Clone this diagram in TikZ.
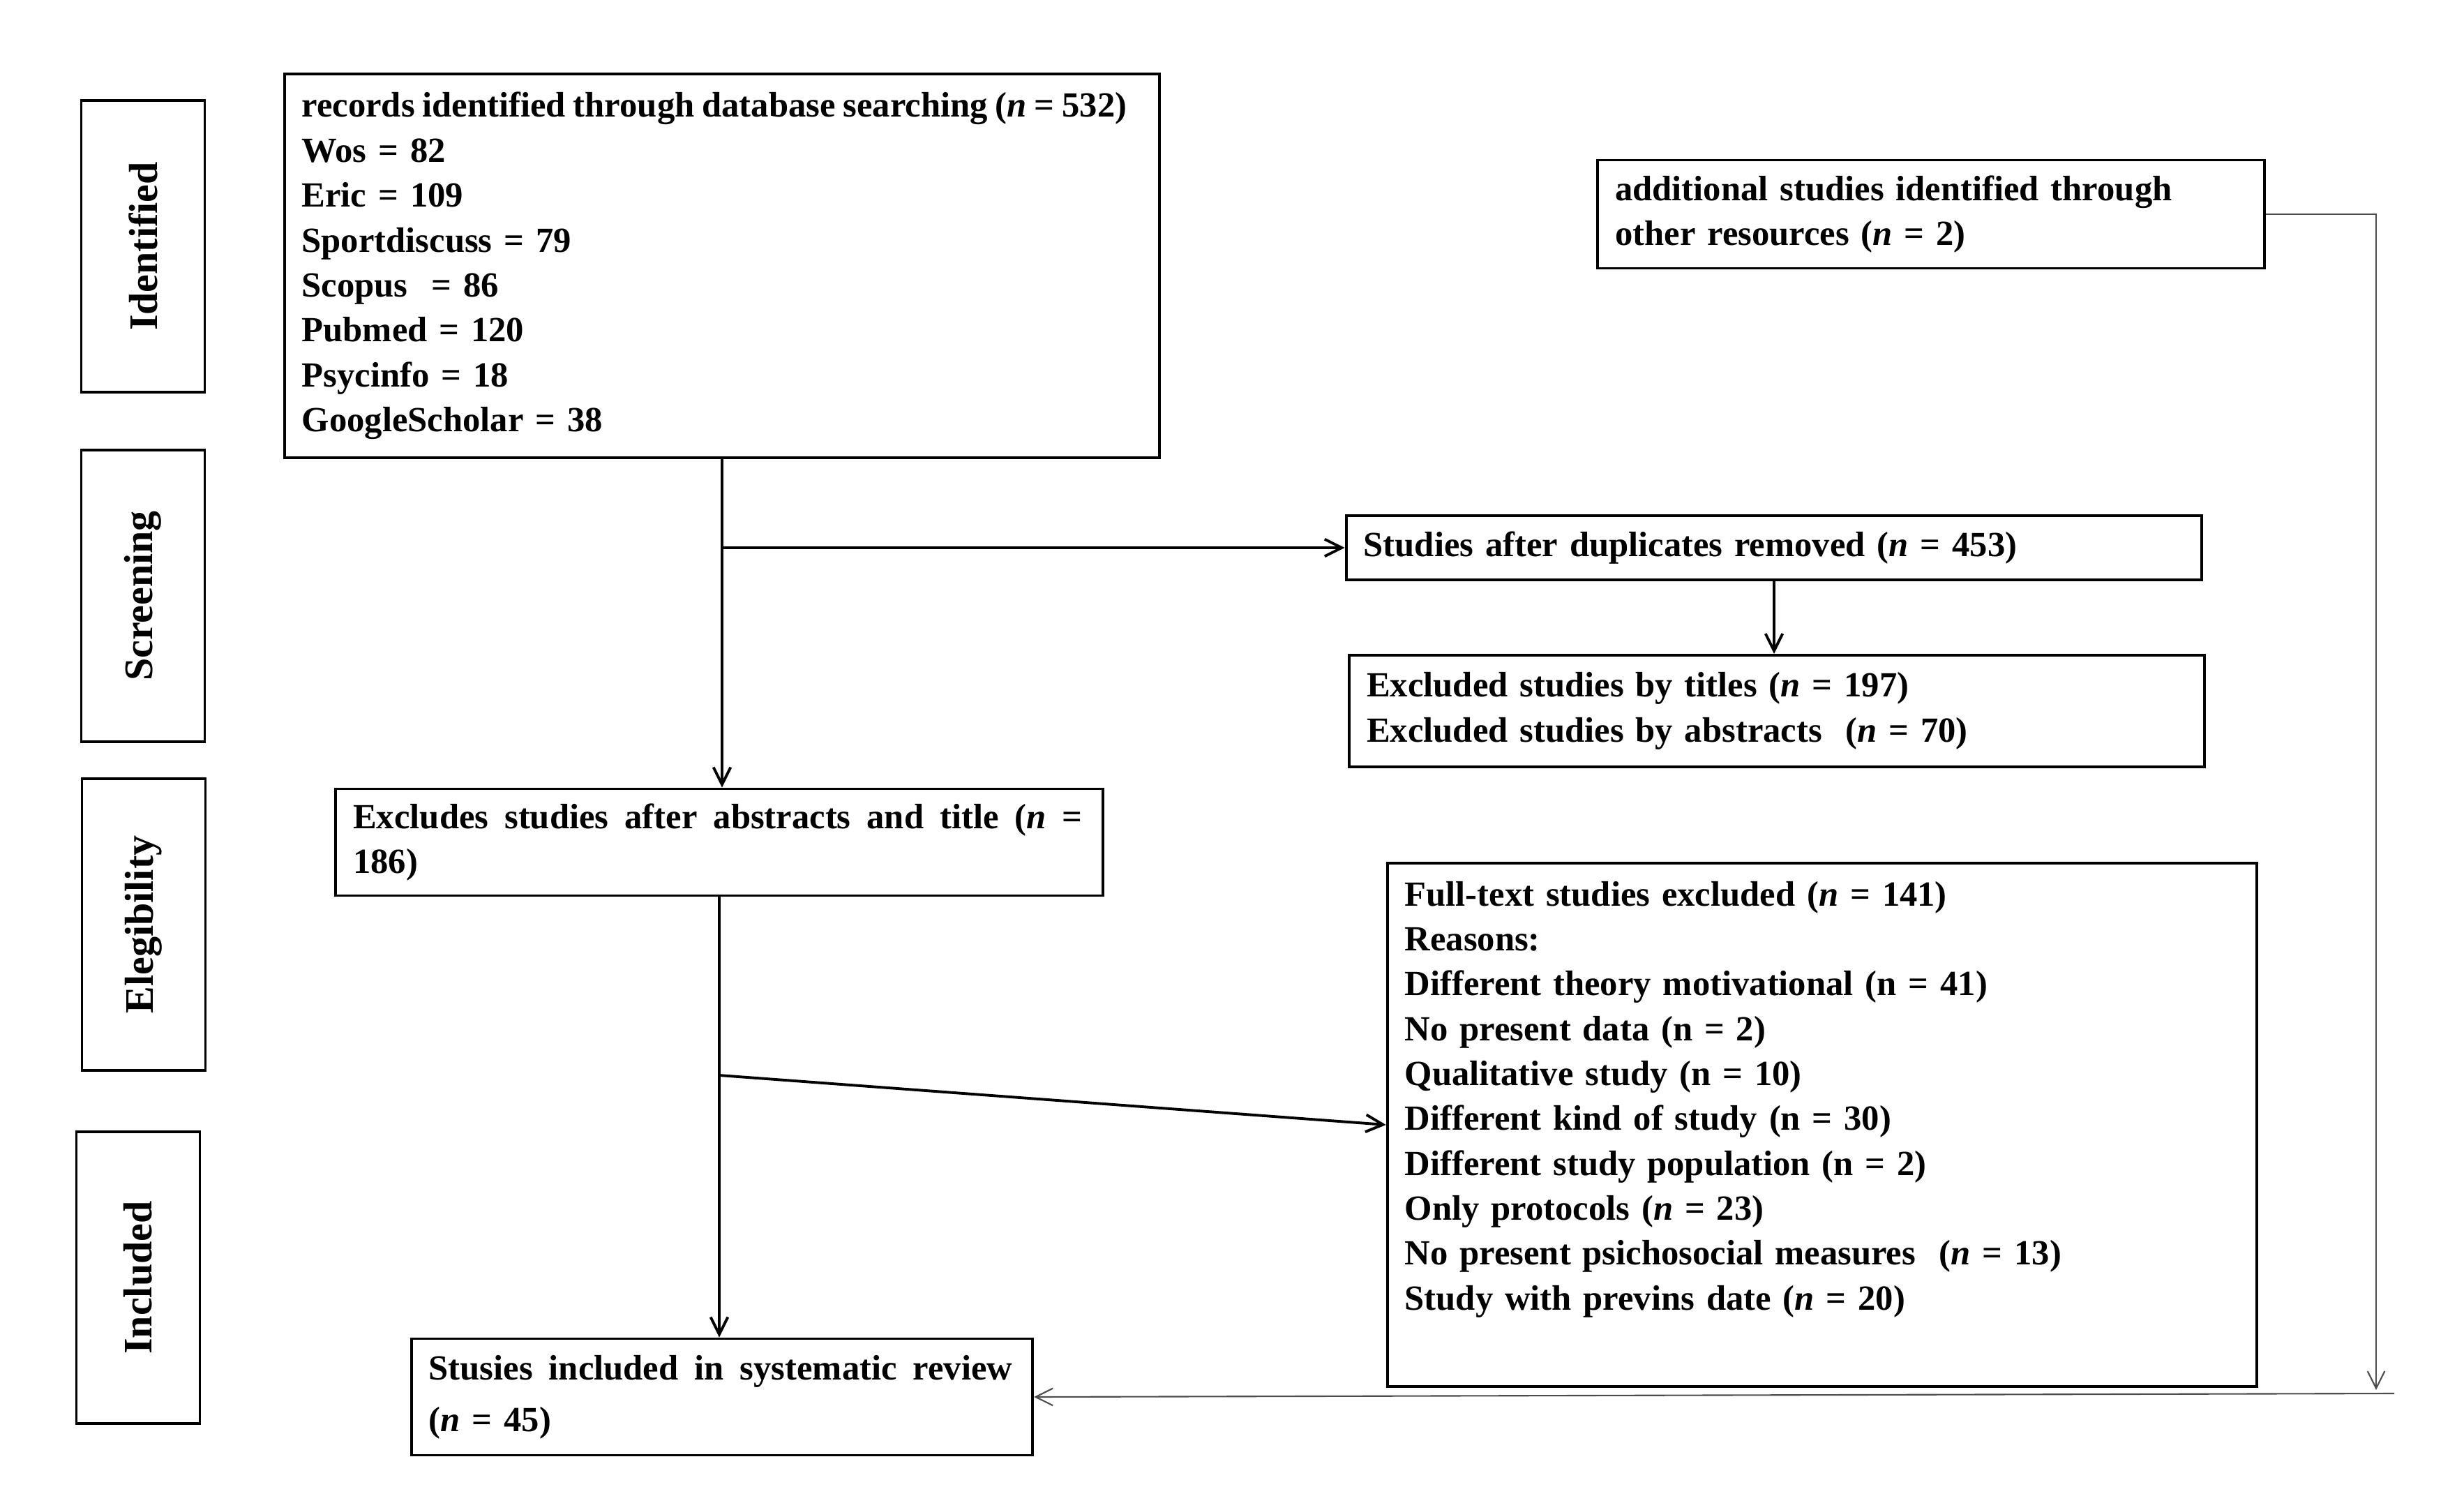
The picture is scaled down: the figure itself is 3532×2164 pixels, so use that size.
\documentclass[tikz,border=0pt]{standalone}
\usepackage{fontspec}
\setmainfont{Liberation Serif}
\usetikzlibrary{arrows.meta}

\tikzset{
  box/.style={draw, line width=1.1pt, align=left, inner xsep=0.25cm, inner ysep=0pt,
    font=\bfseries\fontsize{14.4}{18.3}\selectfont},
  stage/.style={draw, line width=1.1pt, rotate=90, minimum width=4.18cm, minimum height=1.77cm,
    font=\bfseries\fontsize{16.5}{19}\selectfont},
  flow/.style={line width=1.1pt, -{Straight Barb[length=7pt,width=7pt]}},
  side/.style={line width=0.6pt, gray!60!black, -{Straight Barb[length=7pt,width=7pt]}},
}

\begin{document}
\begin{tikzpicture}[x=0.01cm, y=-0.01cm]
\useasboundingbox (0,0) rectangle (3532,2164);
% phases
\node[stage] (identified) at (205,353) {Identified};
\node[stage] (screening) at (205,854) {Screening};
\node[stage] (elegibility) at (206,1325) {Elegibility};
\node[stage] (included) at (198,1831) {Included};
% boxes
\node[box, text width=12.04cm, minimum height=5.5cm] (records) at (1035,381) {\mbox{\spaceskip=0.215em\relax records identified through database searching (\textit{n} = 532)}\\
Wos = 82\\
Eric = 109\\
Sportdiscuss = 79\\
Scopus ~= 86\\
Pubmed = 120\\
Psycinfo = 18\\
GoogleScholar = 38};
\node[box, text width=9.05cm, minimum height=1.55cm] (add) at (2768,307) {additional studies identified through\\
other resources (\textit{n} = 2)};
\node[box, text width=11.76cm, minimum height=0.92cm] (dup) at (2543,785) {Studies after duplicates removed (\textit{n} = 453)};
\node[box, text width=11.75cm, minimum height=1.6cm] (titles) at (2547,1019) {Excluded studies by titles (\textit{n} = 197)\\
Excluded studies by abstracts ~(\textit{n} = 70)};
\node[box, text width=10.49cm, minimum height=1.53cm] (excl) at (1031,1207) {\hbox to 10.45cm{Excludes\hfill studies\hfill after\hfill abstracts\hfill and\hfill title\hfill (\textit{n}\hfill =}\\
186)};
\node[box, text width=11.96cm, minimum height=7.5cm] (full) at (2612,1612) {Full-text studies excluded (\textit{n} = 141)\\
Reasons:\\
Different theory motivational (n = 41)\\
No present data (n = 2)\\
Qualitative study (n = 10)\\
Different kind of study (n = 30)\\
Different study population (n = 2)\\
Only protocols (\textit{n} = 23)\\
No present psichosocial measures ~(\textit{n} = 13)\\
Study with previns date (\textit{n} = 20)\\[5.5pt]\mbox{}};
\node[box, text width=8.4cm, minimum height=1.67cm, font=\bfseries\fontsize{14.4}{21}\selectfont] (incl) at (1035,2002) {\hbox to 8.36cm{Stusies\hfill included\hfill in\hfill systematic\hfill review}\\
(\textit{n} = 45)};
% connectors
\draw[flow] (records.south) -- (records.south |- excl.north);
\coordinate (split1) at (records.south |- dup.west);
\draw[flow] (split1) -- (dup.west);
\draw[flow] (dup.south) -- (dup.south |- titles.north);
\draw[flow] (excl.south) -- (excl.south |- incl.north);
\coordinate (split2) at (excl.south |- 0,1541);
\draw[flow] (split2) -- (full.west);
\coordinate (turn) at (3406,1992);
\draw[side] (add.east) -| (turn);
\coordinate (back) at (3432,1997);
\draw[side] (back) -- (incl.east);
\end{tikzpicture}
\end{document}
